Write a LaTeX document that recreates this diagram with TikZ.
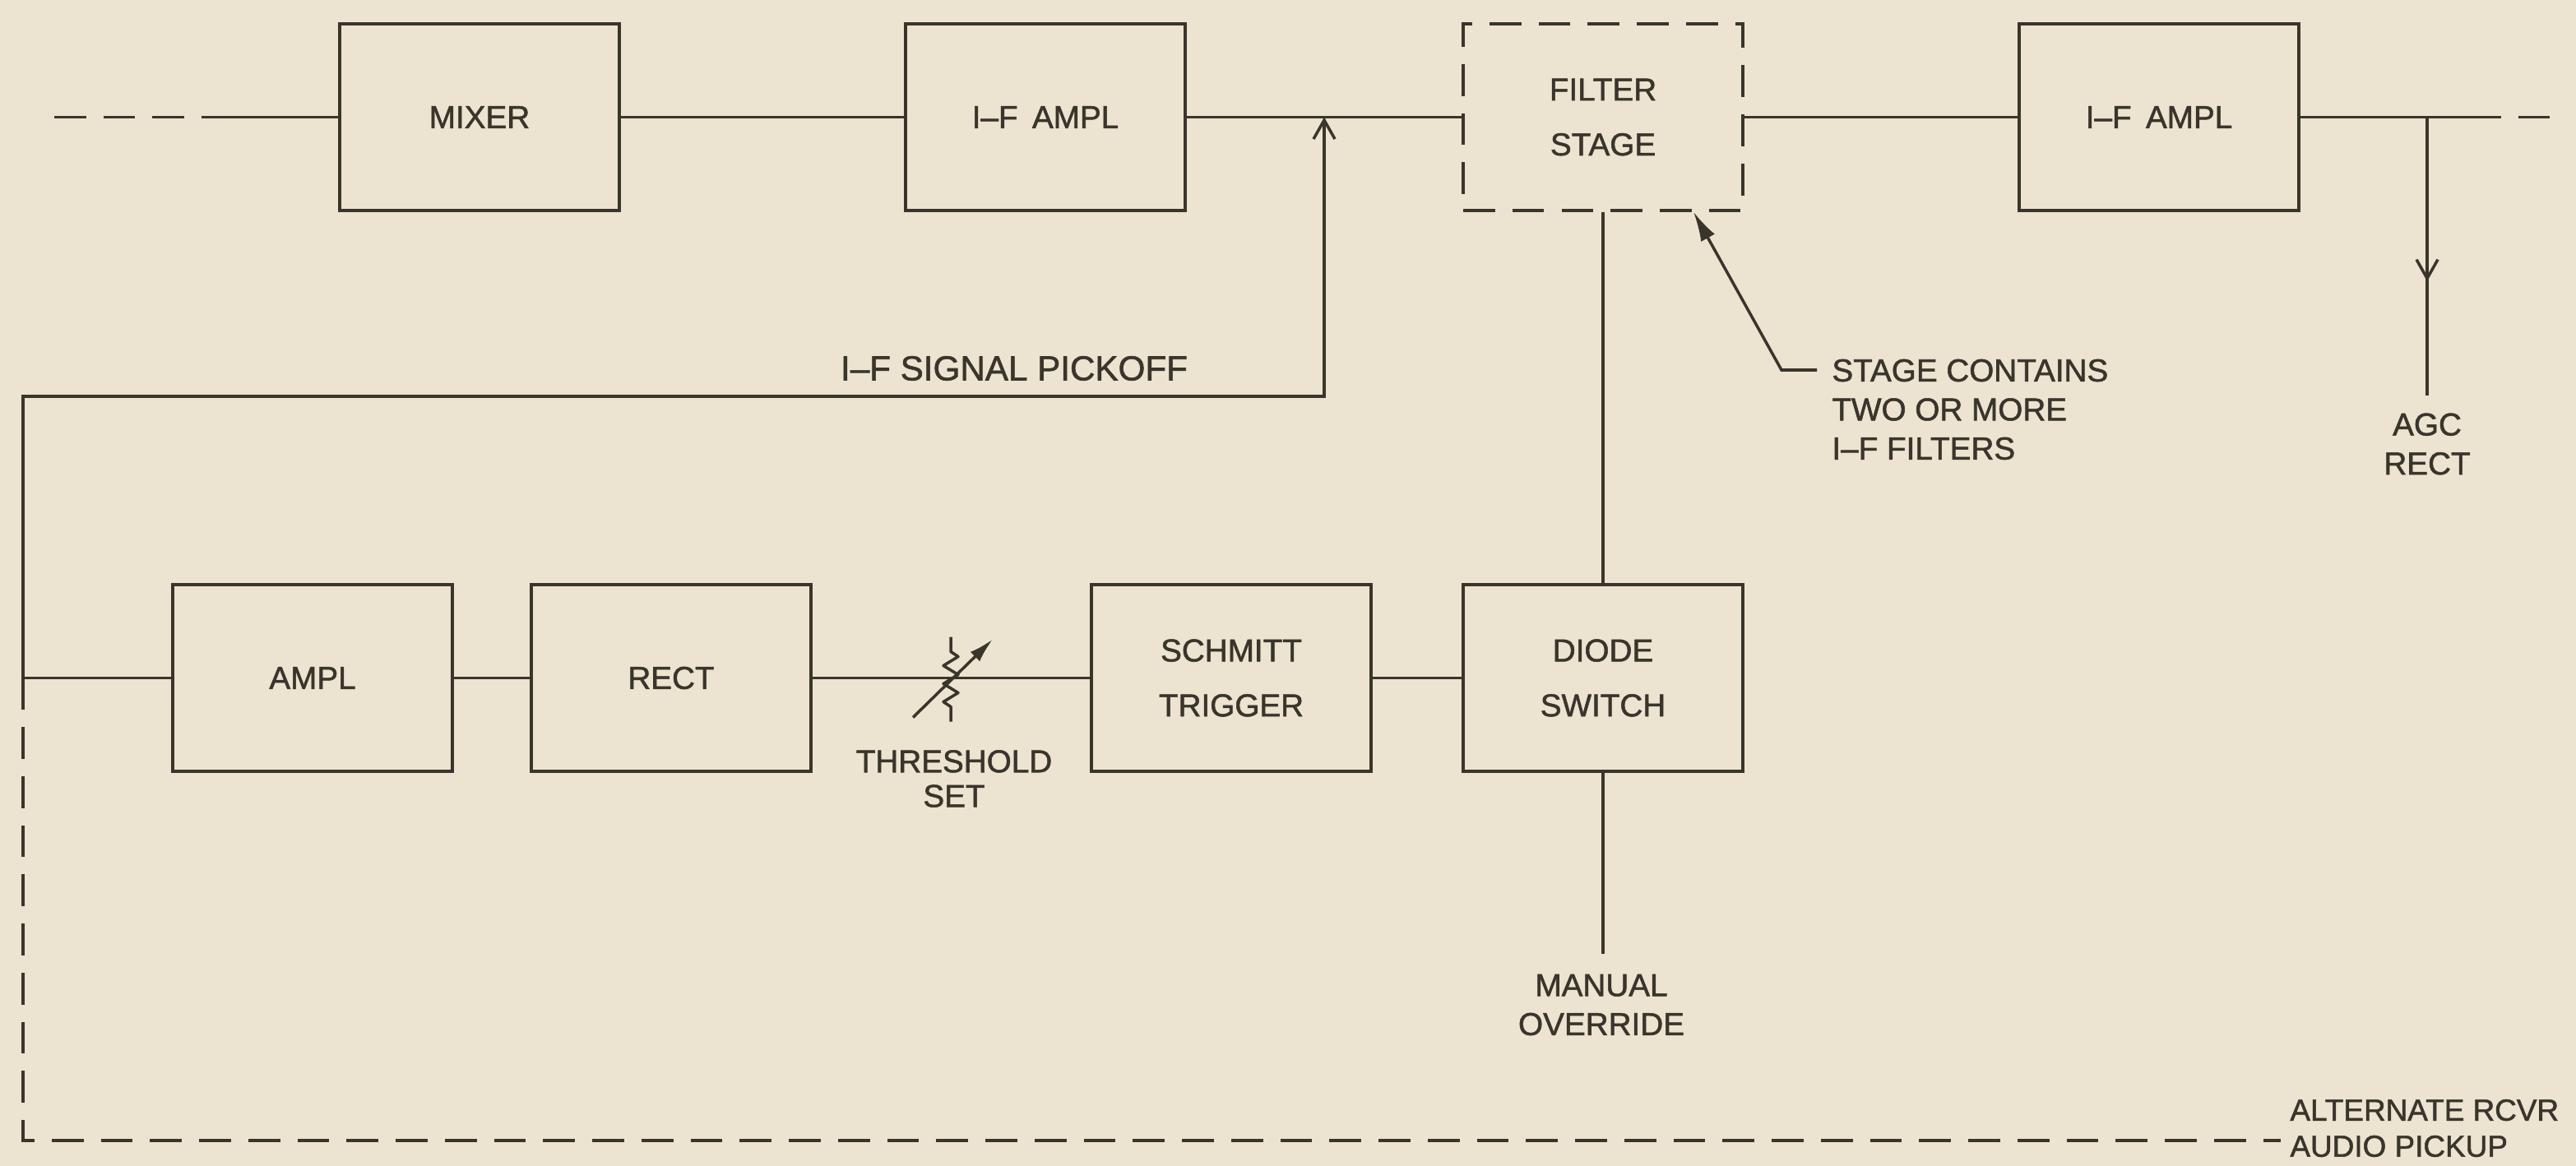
\documentclass[tikz,border=0pt]{standalone}
\usepackage{fontspec}
\setmainfont{Liberation Sans}[UprightFeatures={FakeBold=1.4}]
\usetikzlibrary{arrows.meta, positioning, calc}
\definecolor{paper}{RGB}{236,228,208}
\definecolor{ink}{RGB}{58,53,44}

\begin{document}
\begin{tikzpicture}[
    every node/.style={text=ink, font=\fontsize{11}{13.5}\selectfont},
    block/.style={rectangle, draw=ink, line width=1pt, minimum width=3.4cm, minimum height=2.27cm, align=center, font=\fontsize{11}{19}\selectfont},
    dashblock/.style={block, dash pattern=on 11pt off 6pt},
    conn/.style={draw=ink, line width=1pt},
    dashconn/.style={conn, dash pattern=on 11pt off 6pt},
    barb/.style={conn, -{Straight Barb[length=2.3mm, width=2.6mm]}},
    pointer/.style={conn, -{Latex[length=3.6mm, width=1.9mm]}},
    tag/.style={align=center},
]

% Paper
\fill[paper] (0,0) rectangle (31.32,-14.18);
\useasboundingbox (0,0) rectangle (31.32,-14.18);

% I-F chain
\node[block] (mixer) at (5.83,-1.425) {MIXER};
\node[block] (ifa) at (12.71,-1.425) {I--F\hspace{0.45em}AMPL};
\node[dashblock] (filter) at (19.49,-1.425) {FILTER\\STAGE};
\node[block] (ifb) at (26.25,-1.425) {I--F\hspace{0.45em}AMPL};

\coordinate (inL) at (0.66,-1.425);
\coordinate (inS) at (2.53,-1.425);
\coordinate (outS) at (30.02,-1.425);
\coordinate (outR) at (31.19,-1.425);

\draw[dashconn] (inL) -- (inS);
\draw[conn] (inS) -- (mixer);
\draw[conn] (mixer) -- (ifa);
\draw[conn] (ifa) -- (filter);
\draw[conn] (filter) -- (ifb);
\draw[conn] (ifb) -- (outS);
\draw[dashconn] (outS) -- (outR);

% AGC tap
\coordinate (agc) at (29.51,-1.425);
\coordinate (agcE) at (29.51,-4.81);
\draw[conn] (agc) -- (agcE);
\draw[barb] (agc) -- ($(agc)!0.59!(agcE)$);
\node[tag] (agcl) at (29.51,-5.40) {AGC\\RECT};

% Filter note
\node[align=left, anchor=west] (note) at (22.15,-4.98) {STAGE CONTAINS\\TWO OR MORE\\I--F FILTERS};
\coordinate (noteA) at (22.09,-4.50);
\coordinate (noteK) at (21.66,-4.50);
\draw[pointer] (noteA) -- (noteK) -- ([xshift=11mm]filter.south);

% Control chain
\node[block] (ampl) at (3.80,-8.245) {AMPL};
\node[block] (rect) at (8.16,-8.245) {RECT};
\node[block] (schmitt) at (14.97,-8.245) {SCHMITT\\TRIGGER};
\node[block] (diode) at (19.49,-8.245) {DIODE\\SWITCH};

\draw[conn] (ampl) -- (rect);
\draw[conn] (rect) -- (schmitt);
\draw[conn] (schmitt) -- (diode);
\draw[conn] (filter) -- (diode);

% Pickoff
\coordinate (pick) at (16.10,-1.425);
\coordinate (pickR) at (16.10,-4.82);
\coordinate (pickL) at (0.28,-4.82);
\draw[barb] (ampl.west) -| (pickL) -- (pickR) -- (pick);
\node[font=\fontsize{12}{14}\selectfont] (pickl) at (12.33,-4.48) {I--F SIGNAL PICKOFF};

% Threshold pot
\coordinate (thr) at (11.56,-8.245);
\draw[conn, line join=round] ($(thr)+(0,0.50)$) -- ++(0,-0.18) -- ++(0.09,-0.06)
    -- ++(-0.18,-0.11) -- ++(0.18,-0.11) -- ++(-0.18,-0.11) -- ++(0.18,-0.11)
    -- ++(-0.18,-0.11) -- ++(0.09,-0.06) -- ++(0,-0.18);
\draw[conn, -{Latex[length=3mm, width=1.6mm]}] ($(thr)+(-0.46,-0.48)$) -- ($(thr)+(0.51,0.47)$);
\node[tag, font=\fontsize{11}{12}\selectfont] (thrl) at (11.60,-9.47) {THRESHOLD\\SET};

% Manual override
\coordinate (manual) at (19.49,-11.60);
\draw[conn] (diode) -- (manual);
\node[tag] (manl) at (19.47,-12.22) {MANUAL\\OVERRIDE};

% Alternate audio pickup
\coordinate (altL) at (0.28,-13.87);
\coordinate (altR) at (27.73,-13.87);
\draw[dashconn] (pickL |- ampl.west) -- (altL) -- (altR);
\node[align=left, anchor=west, font=\fontsize{10.5}{12.5}\selectfont] (alt) at (27.72,-13.72) {ALTERNATE RCVR\\AUDIO PICKUP};

\end{tikzpicture}
\end{document}
